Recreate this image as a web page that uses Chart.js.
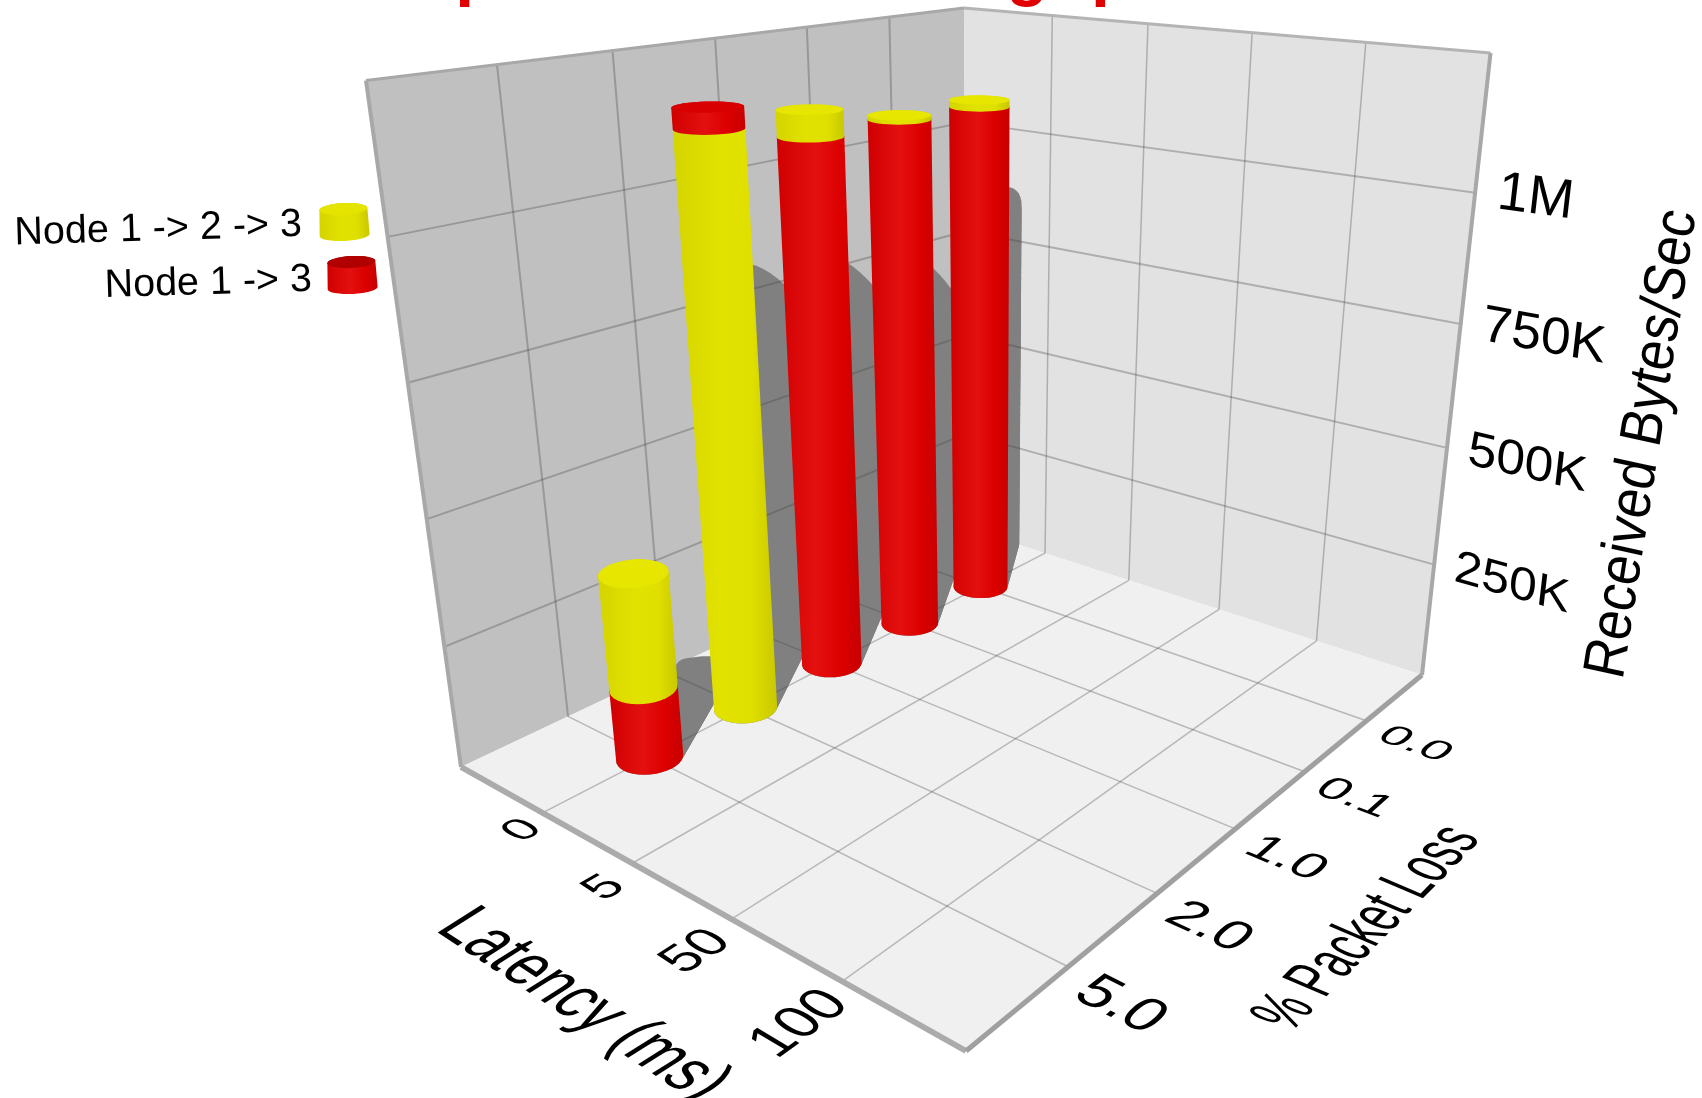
<!DOCTYPE html>
<html>
<head>
<meta charset="utf-8">
<title>Throughput</title>
<script src="https://cdn.jsdelivr.net/npm/chart.js@4"></script>
<style>
body { margin: 0; background: #fff; }
canvas { display: block; }
</style>
</head>
<body>
<canvas id="chart" width="1702" height="1098"></canvas>
<script>
// blank entries pad the axes so the ticks land on the inner grid lines
const latencyLabels = ['', '0', '5', '50', '100', ''];
const lossLabels = ['', '0.0', '0.1', '1.0', '2.0', '5.0', ''];
const barLoss = ['0.0', '0.1', '1.0', '2.0', '5.0'];
const barLatency = '0';
const viaNode2 = [1102000, 1101000, 1141000, 1138000, 380000];
const direct = [1088000, 1093000, 1092000, 1175000, 148000];
const valueTicks = [0, 250000, 500000, 750000, 1000000, 1250000];
const tickNames = { 250000: '250K', 500000: '500K', 750000: '750K', 1000000: '1M' };

// box corners on screen: back, left, right, front, back top, left top
const B = [967, 528, 1], L = [461, 767, 1], R = [1422, 675, 1], F = [966, 1051, 1];
const T = [964, 8, 1], TL = [366, 79, 1];

function det(m) {
    return m[0][0] * (m[1][1] * m[2][2] - m[1][2] * m[2][1])
        - m[0][1] * (m[1][0] * m[2][2] - m[1][2] * m[2][0])
        + m[0][2] * (m[1][0] * m[2][1] - m[1][1] * m[2][0]);
}
function weights() {
    const rows = [0, 1, 2].map(i => [-B[i], R[i], L[i]]);
    const d = det(rows);
    return [0, 1, 2].map(c => det(rows.map((r, i) => r.map((v, j) => j === c ? F[i] : v))) / d);
}
const [wB, wR, wL] = weights();
const Qx = -wB * B[0] + wL * L[0], Qz = -wB + wL;
const wT = (Qz * TL[0] - Qx) / (T[0] - TL[0]);

// a: latency axis (0 at left wall), b: loss axis (0 at right wall), w: height
function proj(a, b, w) {
    const h = [0, 1, 2].map(i => wB * B[i] * (1 - a - b - w) + a * wR * R[i] + b * wL * L[i] + w * wT * T[i]);
    return { x: h[0] / h[2], y: h[1] / h[2] };
}

function hull(pts) {
    const p = pts.slice().sort((m, n) => m.x - n.x || m.y - n.y);
    const cross = (o, m, n) => (m.x - o.x) * (n.y - o.y) - (m.y - o.y) * (n.x - o.x);
    const half = list => {
        const out = [];
        for (const q of list) {
            while (out.length > 1 && cross(out[out.length - 2], out[out.length - 1], q) <= 0) out.pop();
            out.push(q);
        }
        out.pop();
        return out;
    };
    return half(p).concat(half(p.slice().reverse()));
}

function poly(ctx, pts, fill) {
    ctx.beginPath();
    pts.forEach((q, i) => i ? ctx.lineTo(q.x, q.y) : ctx.moveTo(q.x, q.y));
    ctx.closePath();
    ctx.fillStyle = fill;
    ctx.fill();
}

function seg(ctx, p, q, color, width) {
    const s = proj(...p), e = proj(...q);
    ctx.beginPath();
    ctx.moveTo(s.x, s.y);
    ctx.lineTo(e.x, e.y);
    ctx.strokeStyle = color;
    ctx.lineWidth = width;
    ctx.stroke();
}

// text lying in the plane spanned by du (baseline) and dv (up), both per em
function flatText(ctx, text, p, du, dv, align) {
    const o = proj(...p);
    const step = 0.1;
    const e1 = proj(p[0] + du[0] * step, p[1] + du[1] * step, p[2] + du[2] * step);
    const e2 = proj(p[0] + dv[0] * step, p[1] + dv[1] * step, p[2] + dv[2] * step);
    ctx.save();
    ctx.setTransform((e1.x - o.x) / step / 100, (e1.y - o.y) / step / 100,
        -(e2.x - o.x) / step / 100, -(e2.y - o.y) / step / 100, o.x, o.y);
    ctx.font = '100px "Liberation Sans"';
    ctx.fillStyle = '#000';
    ctx.textAlign = align || 'center';
    ctx.textBaseline = 'middle';
    ctx.fillText(text, 0, 0);
    ctx.restore();
}

const RA = 0.051, RB = 0.042;
function disc(a, b, w) {
    const out = [];
    for (let i = 0; i < 36; i++) {
        const t = i / 36 * Math.PI * 2;
        out.push([a + RA * Math.cos(t), b + RB * Math.sin(t), w]);
    }
    return out;
}

// where a point of a bar throws its shadow, floor first and then a wall
const SHADE_A = 0.5, SHADE_B = 0.67;
function shadowOf(pt) {
    const t = Math.min(pt[2], Math.max(pt[0], 0) / SHADE_A, Math.max(pt[1], 0) / SHADE_B);
    return proj(pt[0] - t * SHADE_A, pt[1] - t * SHADE_B, pt[2] - t);
}

const shades = {
    '#e0e000': ['#d4d400', '#e2e200', '#e0e000', '#c8c800'],
    '#e00000': ['#d00000', '#e41010', '#dc0000', '#c80000']
};

function body(ctx, a, b, w0, w1, color) {
    const pts = disc(a, b, w0).concat(disc(a, b, w1)).map(q => proj(...q));
    const xs = pts.map(q => q.x);
    const g = ctx.createLinearGradient(Math.min(...xs), 0, Math.max(...xs), 0);
    shades[color].forEach((c, i) => g.addColorStop([0, 0.45, 0.75, 1][i], c));
    poly(ctx, hull(pts), g);
}

const box3d = {
    id: 'box3d',
    afterDatasetsDraw(chart) {
        const ctx = chart.ctx;
        const sLat = chart.scales.lat, sLoss = chart.scales.loss, sVal = chart.scales.val;
        const aOf = v => (sLat.getPixelForValue(v) - sLat.left) / sLat.width;
        const bOf = v => (sLoss.getPixelForValue(v) - sLoss.left) / sLoss.width;
        const wOf = v => (sVal.bottom - sVal.getPixelForValue(v)) / sVal.height;
        const latTicks = sLat.ticks.filter(t => t.label !== '');
        const lossTicks = sLoss.ticks.filter(t => t.label !== '');
        const valTicks = sVal.ticks.filter(t => t.value > 0 && t.value < sVal.max);

        // title runs off the top of the picture, only descenders are left
        ctx.save();
        ctx.font = 'bold 68px "Liberation Sans"';
        ctx.fillStyle = '#e00000';
        ctx.textAlign = 'left';
        ctx.textBaseline = 'alphabetic';
        ctx.letterSpacing = '0.7px';
        ctx.fillText(chart.options.plugins.title.text, 302, -7);
        ctx.restore();

        // walls and floor
        poly(ctx, [[0, 1, 0], [0, 0, 0], [0, 0, 1], [0, 1, 1]].map(q => proj(...q)), '#c0c0c0');
        poly(ctx, [[0, 0, 0], [1, 0, 0], [1, 0, 1], [0, 0, 1]].map(q => proj(...q)), '#e2e2e2');
        poly(ctx, [[0, 0, 0], [1, 0, 0], [1, 1, 0], [0, 1, 0]].map(q => proj(...q)), '#f0f0f0');

        // shadows go under the grid
        const bars = barLoss.map((l, i) => ({
            a: aOf(barLatency), b: bOf(l),
            hi: Math.max(viaNode2[i], direct[i]), lo: Math.min(viaNode2[i], direct[i]),
            hiColor: viaNode2[i] > direct[i] ? '#e0e000' : '#e00000',
            loColor: viaNode2[i] > direct[i] ? '#e00000' : '#e0e000'
        }));
        bars.forEach(bar => {
            const top = wOf(bar.hi), n = 80;
            for (let i = 0; i < n; i++) {
                const pts = disc(bar.a, bar.b, top * i / n).concat(disc(bar.a, bar.b, top * (i + 1) / n));
                poly(ctx, hull(pts.map(shadowOf)), '#808080');
            }
        });

        // grid
        const gridColor = 'rgba(70,70,70,0.33)';
        latTicks.forEach(t => {
            const a = aOf(t.value);
            seg(ctx, [a, 0, 0], [a, 1, 0], gridColor, 1.5);
            seg(ctx, [a, 0, 0], [a, 0, 1], gridColor, 1.5);
        });
        lossTicks.forEach(t => {
            const b = bOf(t.value);
            seg(ctx, [0, b, 0], [1, b, 0], gridColor, 1.5);
            seg(ctx, [0, b, 0], [0, b, 1], gridColor, 2);
        });
        valTicks.forEach(t => {
            const w = wOf(t.value);
            seg(ctx, [0, 1, w], [0, 0, w], gridColor, 2);
            seg(ctx, [0, 0, w], [1, 0, w], gridColor, 2);
        });

        // frame
        seg(ctx, [0, 1, 0], [1, 1, 0], '#ababab', 6);
        seg(ctx, [1, 1, 0], [1, 0, 0], '#a0a0a0', 5);
        seg(ctx, [0, 1, 0], [0, 1, 1], '#a8a8a8', 4);
        seg(ctx, [0, 1, 1], [0, 0, 1], '#a8a8a8', 3);
        seg(ctx, [0, 0, 1], [1, 0, 1], '#b4b4b4', 3);
        seg(ctx, [1, 0, 1], [1, 0, 0], '#a8a8a8', 4);

        // bars, back to front
        bars.slice().sort((p, q) => p.b - q.b).forEach(bar => {
            const lo = wOf(bar.lo), hi = wOf(bar.hi);
            body(ctx, bar.a, bar.b, 0, lo, bar.loColor);
            body(ctx, bar.a, bar.b, lo, hi, bar.hiColor);
            poly(ctx, disc(bar.a, bar.b, hi).map(q => proj(...q)), bar.hiColor === '#e00000' ? '#d80000' : '#e6e600');
        });

        // tick labels
        latTicks.forEach(t => {
            const a = aOf(t.value);
            flatText(ctx, t.label, [a + 0.016, 1.027 + 0.059 * a, 0], [0, -0.063, 0], [-0.085, 0, 0]);
        });
        lossTicks.forEach(t => flatText(ctx, t.label, [1.093, bOf(t.value) + 0.016, 0], [0.08, 0, 0], [0, -0.075, 0]));
        valTicks.forEach(t => flatText(ctx, tickNames[t.value],
            [1.035, 0, wOf(t.value) + 0.004], [0.085, 0, 0], [0, 0, 0.08], 'left'));

        // axis titles
        flatText(ctx, chart.options.scales.lat.title.text, [0.588, 1.193, 0], [0.087, 0, 0], [0, -0.08, 0]);
        flatText(ctx, chart.options.scales.loss.title.text, [1.255, 0.575, 0], [0, -0.067, 0], [-0.093, 0, 0]);
        flatText(ctx, chart.options.scales.val.title.text, [1.30, 0, 0.475], [0, 0, 0.08], [-0.085, 0, 0]);

        // legend
        chart.data.datasets.forEach((ds, i) => {
            const rx = [302, 312][i], ry = [225, 280][i], cx = [344, 352][i], cy = [222, 275][i];
            ctx.save();
            ctx.translate(rx, ry);
            ctx.rotate(-0.03);
            ctx.font = '39.5px "Liberation Sans"';
            ctx.fillStyle = '#000';
            ctx.textAlign = 'right';
            ctx.textBaseline = 'middle';
            ctx.fillText(ds.label, 0, 0);
            ctx.restore();

            ctx.save();
            ctx.translate(cx, cy);
            ctx.rotate(-0.05);
            const g = ctx.createLinearGradient(-25, 0, 25, 0);
            shades[ds.swatch].forEach((c, k) => g.addColorStop([0, 0.45, 0.75, 1][k], c));
            ctx.beginPath();
            ctx.ellipse(0, -13, 24, 6, 0, Math.PI, 0);
            ctx.lineTo(25, 13);
            ctx.ellipse(0, 13, 25, 6, 0, 0, Math.PI);
            ctx.closePath();
            ctx.fillStyle = g;
            ctx.fill();
            ctx.beginPath();
            ctx.ellipse(0, -13, 24, 6, 0, 0, Math.PI * 2);
            ctx.fillStyle = i ? '#b00000' : '#e4e400';
            ctx.fill();
            ctx.restore();
        });
    }
};

const ctx = document.getElementById('chart').getContext('2d');
new Chart(ctx, {
    type: 'bar',
    plugins: [box3d],
    data: {
        datasets: [
            { label: 'Node 1 -> 2 -> 3', swatch: '#e0e000', xAxisID: 'loss', yAxisID: 'val', backgroundColor: 'transparent',
              data: barLoss.map((l, i) => ({ x: l, y: viaNode2[i] })) },
            { label: 'Node 1 -> 3', swatch: '#e00000', xAxisID: 'loss', yAxisID: 'val', backgroundColor: 'transparent',
              data: barLoss.map((l, i) => ({ x: l, y: direct[i] })) }
        ]
    },
    options: {
        responsive: false,
        animation: false,
        layout: { padding: 0 },
        plugins: {
            legend: { display: false },
            tooltip: { enabled: false },
            title: { display: false, text: 'Comparison of Throughput' }
        },
        scales: {
            lat: { type: 'category', axis: 'x', labels: latencyLabels, offset: false, display: false,
                   ticks: { autoSkip: false }, title: { text: 'Latency (ms)' } },
            loss: { type: 'category', axis: 'x', labels: lossLabels, offset: false, display: false,
                    ticks: { autoSkip: false }, title: { text: '% Packet Loss' } },
            val: { type: 'linear', axis: 'y', min: valueTicks[0], max: valueTicks[valueTicks.length - 1], display: false,
                   ticks: { stepSize: valueTicks[1] }, title: { text: 'Received Bytes/Sec' } }
        }
    }
});
</script>
</body>
</html>
